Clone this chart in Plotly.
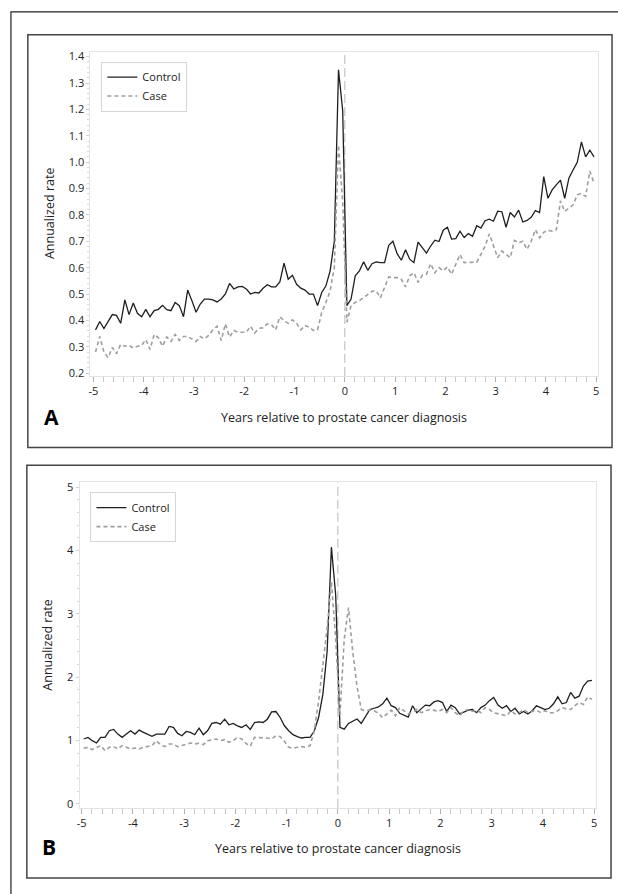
import plotly.graph_objects as go

W, H = 618, 894

# x sampling: monthly midpoints from -5 to +5 years
months = [round((k + 0.5) / 12 - 5, 4) for k in range(120)]

x_ticks = [-5, -4, -3, -2, -1, 0, 1, 2, 3, 4, 5]
x_ticktext = ["-5", "-4", "-3", "-2", "-1", "0", "1", "2", "3", "4", "5"]
a_y_ticks = [0.2, 0.3, 0.4, 0.5, 0.6, 0.7, 0.8, 0.9, 1.0, 1.1, 1.2, 1.3, 1.4]
b_y_ticks = [0, 1, 2, 3, 4, 5]

a_control = [
    0.364, 0.396, 0.369, 0.397, 0.422, 0.419, 0.389, 0.478, 0.422, 0.466,
    0.427, 0.414, 0.442, 0.414, 0.437, 0.442, 0.457, 0.441, 0.437, 0.468,
    0.456, 0.414, 0.515, 0.475, 0.431, 0.462, 0.481, 0.481, 0.478, 0.470,
    0.481, 0.500, 0.540, 0.519, 0.527, 0.529, 0.519, 0.500, 0.506, 0.504,
    0.522, 0.535, 0.527, 0.527, 0.546, 0.617, 0.556, 0.571, 0.537, 0.522,
    0.515, 0.500, 0.500, 0.456, 0.506, 0.531, 0.588, 0.700, 1.350, 1.196,
    0.456, 0.481, 0.569, 0.588, 0.622, 0.590, 0.615, 0.622, 0.619, 0.619,
    0.685, 0.700, 0.653, 0.628, 0.668, 0.632, 0.619, 0.697, 0.675, 0.655,
    0.682, 0.704, 0.699, 0.742, 0.753, 0.708, 0.710, 0.738, 0.714, 0.729,
    0.719, 0.759, 0.750, 0.778, 0.784, 0.776, 0.814, 0.812, 0.753, 0.809,
    0.792, 0.818, 0.773, 0.779, 0.791, 0.816, 0.809, 0.945, 0.863, 0.895,
    0.914, 0.932, 0.863, 0.939, 0.970, 0.999, 1.077, 1.020, 1.045, 1.020,
]
a_case = [
    0.280, 0.339, 0.280, 0.259, 0.297, 0.274, 0.309, 0.302, 0.305, 0.295,
    0.302, 0.305, 0.327, 0.290, 0.347, 0.334, 0.302, 0.337, 0.320, 0.347,
    0.324, 0.339, 0.339, 0.330, 0.320, 0.339, 0.330, 0.343, 0.364, 0.378,
    0.324, 0.387, 0.337, 0.362, 0.355, 0.355, 0.355, 0.378, 0.352, 0.370,
    0.372, 0.387, 0.384, 0.364, 0.414, 0.399, 0.389, 0.402, 0.389, 0.364,
    0.381, 0.374, 0.362, 0.364, 0.431, 0.468, 0.512, 0.600, 1.065, 0.850,
    0.393, 0.456, 0.468, 0.475, 0.487, 0.500, 0.510, 0.512, 0.485, 0.525,
    0.565, 0.562, 0.562, 0.556, 0.527, 0.569, 0.581, 0.544, 0.571, 0.575,
    0.615, 0.581, 0.600, 0.588, 0.603, 0.575, 0.615, 0.650, 0.619, 0.619,
    0.621, 0.621, 0.650, 0.682, 0.728, 0.682, 0.638, 0.663, 0.650, 0.638,
    0.703, 0.694, 0.700, 0.669, 0.700, 0.744, 0.713, 0.734, 0.742, 0.738,
    0.744, 0.853, 0.813, 0.826, 0.838, 0.876, 0.882, 0.870, 0.966, 0.920,
]
b_control = [
    1.024, 1.050, 0.998, 0.961, 1.050, 1.050, 1.155, 1.176, 1.102, 1.050,
    1.102, 1.155, 1.102, 1.165, 1.129, 1.102, 1.066, 1.102, 1.102, 1.102,
    1.222, 1.207, 1.113, 1.076, 1.144, 1.129, 1.092, 1.196, 1.092, 1.155,
    1.270, 1.285, 1.259, 1.337, 1.249, 1.270, 1.233, 1.207, 1.249, 1.176,
    1.285, 1.296, 1.285, 1.337, 1.453, 1.458, 1.364, 1.233, 1.155, 1.092,
    1.061, 1.040, 1.050, 1.050, 1.155, 1.364, 1.729, 2.409, 4.054, 3.300,
    1.21, 1.18, 1.27, 1.31, 1.34, 1.27, 1.39, 1.49, 1.51, 1.53,
    1.58, 1.67, 1.55, 1.52, 1.43, 1.40, 1.37, 1.55, 1.44, 1.50,
    1.56, 1.55, 1.61, 1.63, 1.60, 1.46, 1.56, 1.52, 1.42, 1.45,
    1.48, 1.49, 1.44, 1.52, 1.56, 1.63, 1.68, 1.56, 1.51, 1.55,
    1.46, 1.51, 1.42, 1.46, 1.42, 1.47, 1.55, 1.52, 1.49, 1.51,
    1.58, 1.69, 1.58, 1.60, 1.76, 1.67, 1.70, 1.86, 1.94, 1.95,
]
b_case = [
    0.878, 0.893, 0.857, 0.893, 0.920, 0.841, 0.893, 0.904, 0.867, 0.920,
    0.893, 0.867, 0.883, 0.867, 0.893, 0.904, 0.920, 0.998, 0.935, 0.904,
    0.946, 0.946, 0.904, 0.920, 0.946, 0.961, 0.946, 0.956, 0.935, 0.998,
    1.008, 1.024, 0.998, 1.014, 0.972, 0.998, 1.050, 1.024, 0.956, 0.909,
    1.050, 1.050, 1.040, 1.040, 1.024, 1.076, 1.061, 0.987, 0.893, 0.878,
    0.893, 0.904, 0.893, 0.920, 1.155, 1.625, 2.199, 2.774, 3.506, 2.600,
    1.40, 2.60, 3.10, 2.40, 1.85, 1.49, 1.47, 1.48, 1.47, 1.43,
    1.36, 1.42, 1.48, 1.39, 1.52, 1.47, 1.42, 1.45, 1.49, 1.44,
    1.47, 1.49, 1.48, 1.46, 1.49, 1.44, 1.52, 1.44, 1.39, 1.47,
    1.49, 1.46, 1.48, 1.44, 1.52, 1.49, 1.44, 1.42, 1.40, 1.39,
    1.47, 1.42, 1.44, 1.49, 1.44, 1.46, 1.48, 1.44, 1.47, 1.44,
    1.44, 1.47, 1.52, 1.50, 1.49, 1.55, 1.60, 1.57, 1.69, 1.65,
]

FONT = "Open Sans"
CTRL = dict(color="#1e1e1e", width=1.3)
CASE = dict(color="#9e9e9e", width=1.6, dash="4px,3px")

fig = go.Figure()
fig.add_trace(go.Scatter(x=months, y=a_control, mode="lines", name="Control",
                         line=CTRL, xaxis="x", yaxis="y", legend="legend"))
fig.add_trace(go.Scatter(x=months, y=a_case, mode="lines", name="Case",
                         line=CASE, xaxis="x", yaxis="y", legend="legend"))
fig.add_trace(go.Scatter(x=months, y=b_control, mode="lines", name="Control",
                         line=CTRL, xaxis="x2", yaxis="y2", legend="legend2"))
fig.add_trace(go.Scatter(x=months, y=b_case, mode="lines", name="Case",
                         line=CASE, xaxis="x2", yaxis="y2", legend="legend2"))


def px(x):
    return x / W


def py(y):
    return 1 - y / H


xcommon = dict(
    tickvals=x_ticks, ticktext=x_ticktext, showgrid=False, zeroline=False,
    showline=True, linecolor="#e4e4e4", linewidth=1, mirror=True,
    ticks="outside", ticklen=5, tickcolor="#b0b0b0", tickwidth=1,
    minor=dict(dtick=0.2, tick0=0, ticks="outside", ticklen=5,
               tickcolor="#c8c8c8", showgrid=False),
    tickfont=dict(family=FONT, size=11, color="#222"),
)
ycommon = dict(
    showgrid=False, zeroline=False, showline=True, linecolor="#e4e4e4",
    linewidth=1, mirror=True, ticks="outside", ticklen=3,
    tickcolor="#cfcfcf", tickfont=dict(family=FONT, size=11, color="#222"),
)

fig.update_layout(
    width=W, height=H, margin=dict(l=0, r=0, t=0, b=0),
    paper_bgcolor="white", plot_bgcolor="white",
    font=dict(family=FONT, size=11, color="#222"),
    xaxis=dict(domain=[px(88), px(599)], range=[-5.06, 5.04], anchor="y",
               **xcommon),
    yaxis=dict(domain=[py(376), py(49)], range=[0.189, 1.419], anchor="x",
               tickvals=a_y_ticks, ticktext=[f"{v:.1f}" for v in a_y_ticks],
               minor=dict(tick0=0.2, dtick=0.02, ticks="outside", ticklen=2,
                          tickcolor="#d8d8d8", showgrid=False),
               **ycommon),
    xaxis2=dict(domain=[px(77), px(597)], range=[-5.04, 5.04], anchor="y2",
                **xcommon),
    yaxis2=dict(domain=[py(811), py(483)], range=[-0.06, 5.08], anchor="x2",
                tickvals=b_y_ticks, ticktext=[str(v) for v in b_y_ticks],
                minor=dict(tick0=0, dtick=0.2, ticks="outside", ticklen=2,
                           tickcolor="#d8d8d8", showgrid=False),
                **ycommon),
    legend=dict(x=px(99), y=py(59), xanchor="left", yanchor="top",
                bordercolor="#d6d6d6", borderwidth=1, bgcolor="white",
                font=dict(family=FONT, size=11, color="#222"),
                tracegroupgap=0, itemwidth=30),
    legend2=dict(x=px(88), y=py(493), xanchor="left", yanchor="top",
                 bordercolor="#d6d6d6", borderwidth=1, bgcolor="white",
                 font=dict(family=FONT, size=11, color="#222"),
                 tracegroupgap=0, itemwidth=30),
    showlegend=True,
)

shapes = [
    # outer frame
    dict(type="rect", xref="paper", yref="paper", x0=px(8), y0=py(9),
         x1=1.05, y1=-0.05, line=dict(color="#222", width=1.2)),
    # panel frames
    dict(type="rect", xref="paper", yref="paper", x0=px(25), y0=py(32),
         x1=px(613), y1=py(448), line=dict(color="#444", width=1.5)),
    dict(type="rect", xref="paper", yref="paper", x0=px(24), y0=py(466),
         x1=px(612), y1=py(882), line=dict(color="#444", width=1.5)),
    # diagnosis reference lines
    dict(type="line", xref="x", yref="y domain", x0=0, x1=0, y0=0, y1=1,
         line=dict(color="#c4c4c4", width=1.2, dash="9px,4px"), layer="below"),
    dict(type="line", xref="x2", yref="y2 domain", x0=0, x1=0, y0=0, y1=1,
         line=dict(color="#c4c4c4", width=1.2, dash="9px,4px"), layer="below"),
]
fig.update_layout(shapes=shapes)

ann = [
    dict(text="Years relative to prostate cancer diagnosis", x=px(343), y=py(418),
         font=dict(size=12.5)),
    dict(text="Annualized rate", x=px(47), y=py(212), textangle=-90,
         font=dict(size=12.5)),
    dict(text="<b>A</b>", x=px(49), y=py(417), font=dict(size=21, color="#000")),
    dict(text="Years relative to prostate cancer diagnosis", x=px(337), y=py(852),
         font=dict(size=12.5)),
    dict(text="Annualized rate", x=px(45), y=py(647), textangle=-90,
         font=dict(size=12.5)),
    dict(text="<b>B</b>", x=px(46), y=py(851), font=dict(size=21, color="#000")),
]
for a in ann:
    a.update(xref="paper", yref="paper", showarrow=False, xanchor="center",
             yanchor="middle")
    a["font"] = dict(family=FONT, color=a["font"].get("color", "#222"),
                     size=a["font"]["size"])
fig.update_layout(annotations=ann)

fig.write_html(
    "out.html",
    config={"displayModeBar": False},
    post_script="document.body.style.margin='0';document.body.style.overflow='hidden';",
)
